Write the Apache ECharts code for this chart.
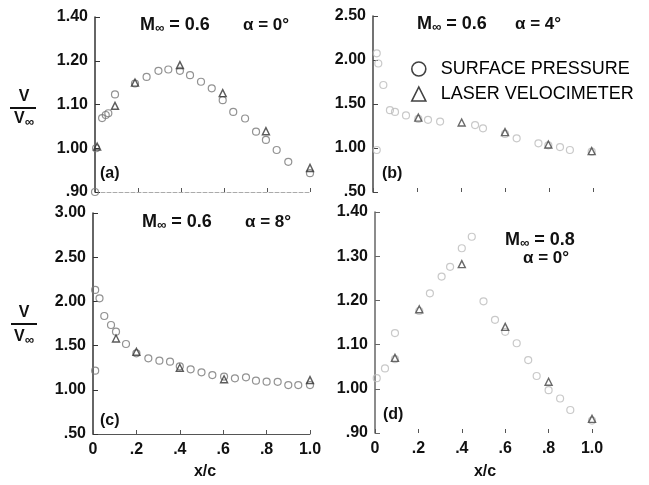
<!DOCTYPE html>
<html>
<head>
<meta charset="utf-8">
<script src="https://cdn.jsdelivr.net/npm/echarts@6/dist/echarts.min.js"></script>
<style>
  html, body { margin: 0; padding: 0; background: #fff; }
  #chart { width: 649px; height: 485px; }
</style>
</head>
<body>
<div id="chart"></div>
<script>
// tick labels as printed on the figure
const xTicks = ['0', '.2', '.4', '.6', '.8', '1.0']
const aTicks = ['.90', '1.00', '1.10', '1.20', '1.40']
const bTicks = ['.50', '1.00', '1.50', '2.00', '2.50']
const cTicks = ['.50', '1.00', '1.50', '2.00', '2.50', '3.00']
const dTicks = ['.90', '1.00', '1.10', '1.20', '1.30', '1.40']

// (a) M = 0.6, alpha = 0
const aSurface = [[0, 0.90], [0.005, 1.00], [0.033, 1.069], [0.05, 1.076], [0.062, 1.08], [0.093, 1.123],
  [0.186, 1.148], [0.24, 1.163], [0.295, 1.177], [0.341, 1.18], [0.395, 1.177], [0.442, 1.167],
  [0.493, 1.152], [0.543, 1.137], [0.594, 1.11], [0.643, 1.083], [0.698, 1.068], [0.749, 1.038],
  [0.795, 1.019], [0.845, 0.996], [0.899, 0.969], [1.0, 0.943]]
const aLaser = [[0.01, 1.004], [0.093, 1.097], [0.186, 1.15], [0.395, 1.19], [0.594, 1.126], [0.795, 1.039], [1.0, 0.955]]

// (b) M = 0.6, alpha = 4
const bSurface = [[0.017, 2.076], [0.024, 1.96], [0.047, 1.716], [0.077, 1.43], [0.1, 1.41], [0.15, 1.37],
  [0.206, 1.33], [0.25, 1.32], [0.305, 1.30], [0.464, 1.26], [0.5, 1.224], [0.6, 1.16], [0.653, 1.11],
  [0.752, 1.053], [0.797, 1.03], [0.85, 1.01], [0.895, 0.977], [0.994, 0.958], [0.017, 0.977]]
const bLaser = [[0.206, 1.345], [0.403, 1.29], [0.6, 1.18], [0.797, 1.04], [0.994, 0.965]]

// (c) M = 0.6, alpha = 8
const cSurface = [[0.01, 2.13], [0.03, 2.035], [0.01, 1.216], [0.052, 1.835], [0.083, 1.733], [0.106, 1.657],
  [0.152, 1.518], [0.2, 1.413], [0.255, 1.356], [0.306, 1.33], [0.355, 1.318], [0.4, 1.265], [0.45, 1.232],
  [0.5, 1.198], [0.55, 1.167], [0.604, 1.15], [0.654, 1.13], [0.705, 1.141], [0.751, 1.103], [0.8, 1.092],
  [0.851, 1.09], [0.9, 1.054], [0.946, 1.054], [1.0, 1.054]]
const cLaser = [[0.106, 1.58], [0.2, 1.43], [0.4, 1.25], [0.604, 1.12], [1.0, 1.11]]

// (d) M = 0.8, alpha = 0
const dSurface = [[0.008, 1.024], [0.046, 1.046], [0.092, 1.067], [0.092, 1.126], [0.204, 1.176], [0.253, 1.216],
  [0.307, 1.254], [0.346, 1.276], [0.4, 1.318], [0.446, 1.344], [0.5, 1.198], [0.553, 1.156], [0.6, 1.129],
  [0.653, 1.103], [0.706, 1.065], [0.745, 1.029], [0.8, 0.997], [0.853, 0.978], [0.9, 0.952], [1.0, 0.928]]
const dLaser = [[0.092, 1.07], [0.204, 1.18], [0.4, 1.282], [0.6, 1.14], [0.8, 1.016], [1.0, 0.932]]

const font = 'Liberation Sans, Arial, sans-serif'

function xAxis(i, showLabel, lineStyle) {
  return {
    type: 'value', gridIndex: i, min: 0, max: 1, interval: 0.2,
    axisLine: lineStyle ? {show: true, lineStyle: lineStyle} : {show: false},
    axisTick: {show: true, inside: true, length: 4, lineStyle: {color: '#555'}},
    splitLine: {show: false},
    axisLabel: {
      show: showLabel, margin: 8, fontSize: 16, fontWeight: 'bold', fontFamily: font, color: '#111',
      formatter: (v, idx) => xTicks[idx]
    }
  }
}

function yAxis(i, min, max, interval, ticks, lineColor) {
  return {
    type: 'value', gridIndex: i, min: min, max: max, interval: interval,
    axisLine: {show: true, lineStyle: {color: lineColor, width: 1.5}},
    axisTick: {show: true, inside: true, length: 5, lineStyle: {color: lineColor}},
    splitLine: {show: false},
    axisLabel: {
      margin: 7, fontSize: 16, fontWeight: 'bold', fontFamily: font, color: '#111',
      formatter: (v, idx) => ticks[idx]
    }
  }
}

function surface(i, data, color) {
  return {
    name: 'SURFACE PRESSURE', type: 'scatter', xAxisIndex: i, yAxisIndex: i, data: data,
    symbol: 'circle', symbolSize: 7, z: 2,
    itemStyle: {color: 'rgba(0,0,0,0)', borderColor: color, borderWidth: 1.2}
  }
}

function laser(i, data, color) {
  return {
    name: 'LASER VELOCIMETER', type: 'scatter', xAxisIndex: i, yAxisIndex: i, data: data,
    symbol: 'triangle', symbolSize: 7, z: 3,
    itemStyle: {color: 'rgba(0,0,0,0)', borderColor: color, borderWidth: 1.4}
  }
}

function label(x, y, text, size, align) {
  return {
    type: 'text', x: x, y: y,
    style: {
      text: text, fontSize: size || 18, fontWeight: 'bold', fontFamily: font, fill: '#111',
      align: align || 'left', verticalAlign: 'middle',
      rich: {s: {fontSize: 13, fontWeight: 'bold', fontFamily: font, fill: '#111', padding: [6, 0, 0, 0]}}
    }
  }
}

const option = {
  backgroundColor: '#fff',
  animation: false,
  grid: [
    {left: 95, top: 17, width: 215, height: 175},
    {left: 373, top: 16, width: 220, height: 176},
    {left: 93, top: 213, width: 217, height: 221},
    {left: 375, top: 212, width: 217, height: 221}
  ],
  xAxis: [
    xAxis(0, false, {color: '#aaa', type: 'dashed'}),
    xAxis(1, false, null),
    xAxis(2, true, {color: '#555'}),
    xAxis(3, true, null)
  ],
  yAxis: [
    yAxis(0, 0.9, 1.3, 0.1, aTicks, '#333'),
    yAxis(1, 0.5, 2.5, 0.5, bTicks, '#444'),
    yAxis(2, 0.5, 3.0, 0.5, cTicks, '#333'),
    yAxis(3, 0.9, 1.4, 0.1, dTicks, '#666')
  ],
  legend: {
    orient: 'vertical', left: 406, top: 55, itemGap: 7, itemWidth: 14, itemHeight: 14,
    textStyle: {fontSize: 18, fontFamily: font, color: '#000', padding: [0, 0, 0, 10]},
    data: [
      {name: 'SURFACE PRESSURE', icon: 'circle', itemStyle: {color: 'rgba(0,0,0,0)', borderColor: '#111', borderWidth: 1.6}},
      {name: 'LASER VELOCIMETER', icon: 'triangle', itemStyle: {color: 'rgba(0,0,0,0)', borderColor: '#111', borderWidth: 1.6}}
    ]
  },
  series: [
    surface(0, aSurface, '#777'), laser(0, aLaser, '#333'),
    surface(1, bSurface, '#bbb'), laser(1, bLaser, '#444'),
    surface(2, cSurface, '#777'), laser(2, cLaser, '#333'),
    surface(3, dSurface, '#bbb'), laser(3, dLaser, '#444')
  ],
  graphic: [
    label(140, 25, 'M{s|∞} = 0.6'), label(243, 25, 'α = 0°', 17),
    label(417, 24, 'M{s|∞} = 0.6'), label(515, 24, 'α = 4°', 17),
    label(142, 222, 'M{s|∞} = 0.6'), label(245, 222, 'α = 8°', 17),
    label(505, 240, 'M{s|∞} = 0.8'), label(523, 258, 'α = 0°', 17),
    label(100, 174, '(a)', 16), label(382, 174, '(b)', 16),
    label(100, 421, '(c)', 16), label(383, 415, '(d)', 16),
    label(24, 97, 'V', 16, 'center'), label(24, 119, 'V{s|∞}', 16, 'center'),
    {type: 'line', shape: {x1: 10, y1: 108, x2: 36, y2: 108}, style: {stroke: '#111', lineWidth: 2}},
    label(24, 313, 'V', 16, 'center'), label(24, 337, 'V{s|∞}', 16, 'center'),
    {type: 'line', shape: {x1: 11, y1: 324, x2: 37, y2: 324}, style: {stroke: '#111', lineWidth: 2}},
    label(205, 472, 'x/c', 16, 'center'), label(485, 472, 'x/c', 16, 'center')
  ]
}

const myChart = echarts.init(document.getElementById('chart'))
myChart.setOption(option)
</script>
</body>
</html>
